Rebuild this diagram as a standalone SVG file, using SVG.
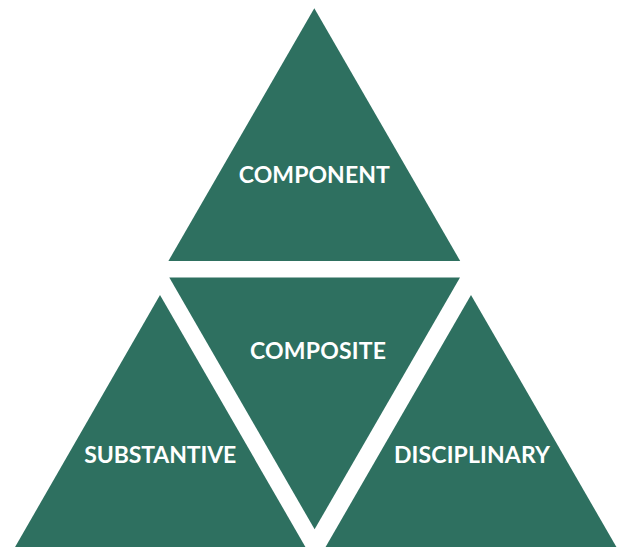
<svg xmlns="http://www.w3.org/2000/svg" width="622" height="547" viewBox="0 0 622 547">
<style>
.tri{fill:#2e7060}
.lbl{font-family:Lato,"Open Sans","Liberation Sans",sans-serif;font-weight:bold;font-size:23px;fill:#ffffff;text-anchor:middle}
</style>
<rect width="622" height="547" fill="#ffffff"/>
<g id="component"><polygon class="tri" points="314.3,8.3 460.2,261 168.4,261"/><text class="lbl" x="314.3" y="183.3" textLength="151">COMPONENT</text></g>
<g id="composite"><polygon class="tri" points="169.3,277.5 460,277.5 314.6,529.3"/><text class="lbl" x="318" y="359.3" textLength="136">COMPOSITE</text></g>
<g id="substantive"><polygon class="tri" points="160,295 306,548 14.5,548"/><text class="lbl" x="160.3" y="462.6" textLength="152">SUBSTANTIVE</text></g>
<g id="disciplinary"><polygon class="tri" points="471,295 617,548 325,548"/><text class="lbl" x="472" y="462.6" textLength="156">DISCIPLINARY</text></g>
<g id="connectors"/>
</svg>
